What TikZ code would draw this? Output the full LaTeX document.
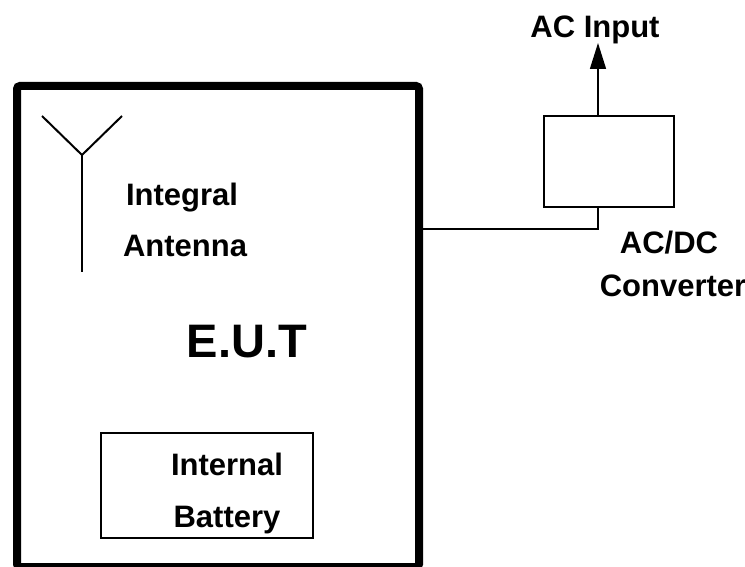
\documentclass[tikz,border=0pt]{standalone}
\usepackage{fontspec}
\setmainfont{Liberation Sans}
\usetikzlibrary{arrows.meta}
\tikzset{
  lbl/.style={inner sep=0pt, anchor=base, font=\bfseries\fontsize{31}{31}\selectfont},
  biglbl/.style={inner sep=0pt, anchor=base, font=\bfseries\fontsize{47}{47}\selectfont},
  thinbox/.style={draw, line width=1.3pt, inner sep=0pt},
  wire/.style={line width=1.5pt},
}
\begin{document}
\begin{tikzpicture}[x=1pt,y=-1pt]
\useasboundingbox (0,0) rectangle (745,567);
% EUT enclosure
\node[draw, line width=8pt, rounded corners=3pt, minimum width=402pt, minimum height=481pt, inner sep=0pt] (eut) at (218,326.5) {};
% antenna
\coordinate (al) at (42,116);
\coordinate (ar) at (122,116);
\coordinate (aj) at (82,155);
\coordinate (ab) at (82,272);
\draw[line width=2pt] (al) -- (aj) -- (ar);
\draw[line width=2pt] (aj) -- (ab);
\node[lbl] (integral) at (182,206) {Integral};
\node[lbl] (antenna) at (185,256) {Antenna};
\node[biglbl] (eutlbl) at (247,357) {E.U.T};
% battery
\node[thinbox, minimum width=212pt, minimum height=105pt] (bat) at (207,485.5) {};
\node[lbl] (internal) at (227,475) {Internal};
\node[lbl] (battery) at (227,527) {Battery};
% converter
\node[thinbox, minimum width=130pt, minimum height=91pt] (conv) at (609,161.5) {};
\coordinate (ac) at (598,43);
\coordinate (j) at (598,229);
\draw[wire, -{Triangle[length=26pt,width=16pt]}] (conv.north -| ac) -- (ac);
\draw[wire] (j -| eut.east) -- (j) -- (j |- conv.south);
\node[lbl] (acin) at (595,38) {AC Input};
\node[lbl] (acdc) at (669,253) {AC/DC};
\node[lbl] (convlbl) at (673,296) {Converter};
\end{tikzpicture}
\end{document}
